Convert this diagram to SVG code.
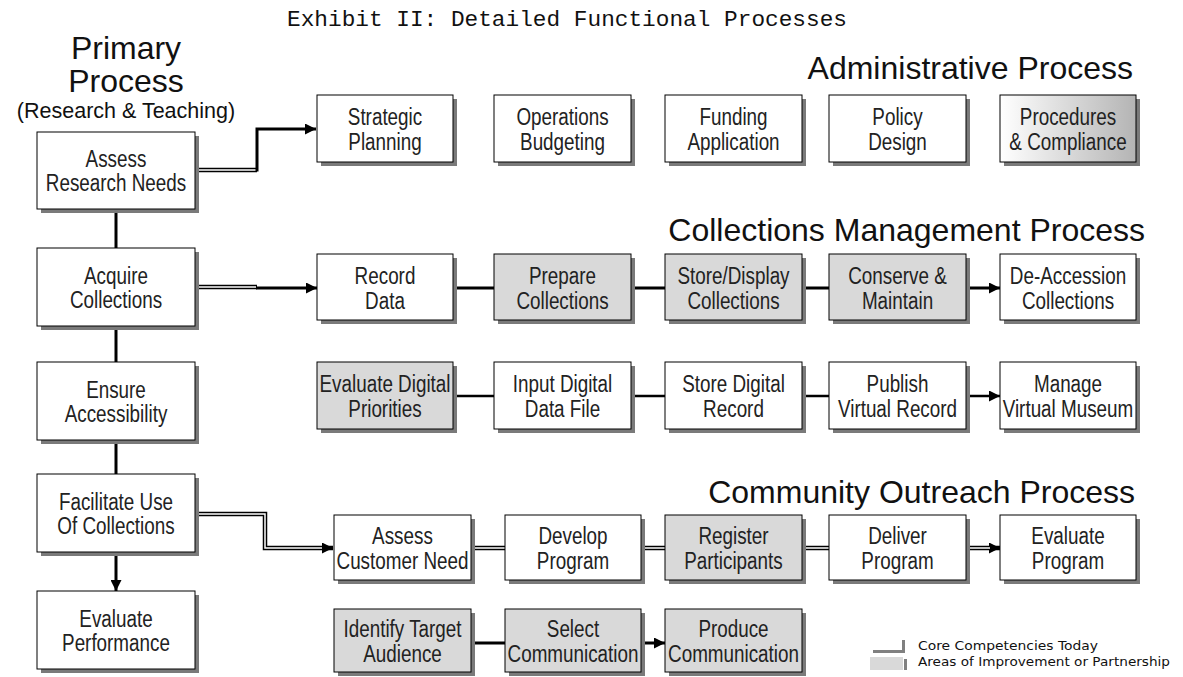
<svg xmlns="http://www.w3.org/2000/svg" width="1183" height="677" viewBox="0 0 1183 677">
<style>
.sh{fill:#7a7a7a}
.bx{fill:#fff;stroke:#000;stroke-width:1}
.gy{fill:#d9d9d9;stroke:#000;stroke-width:1}
.t{font-family:"Liberation Sans",Arial,sans-serif;font-size:23px;fill:#222;text-anchor:middle}
.h{font-family:"Liberation Sans",Arial,sans-serif;fill:#111}
.th{fill:none;stroke:#000;stroke-width:3}
.md{fill:none;stroke:#000;stroke-width:2.5}
.db{fill:none;stroke:#000;stroke-width:4.5}
.dw{fill:none;stroke:#fff;stroke-width:1.5}
.lg{font-family:"DejaVu Sans","Liberation Sans",sans-serif;font-size:13px;fill:#111}
</style>
<defs>
<marker id="ah" markerUnits="userSpaceOnUse" viewBox="0 0 10 10" refX="10" refY="5" markerWidth="11" markerHeight="11" orient="auto">
<path d="M0,0 L10,5 L0,10 z" fill="#000"/>
</marker>
<linearGradient id="gr" x1="0" y1="0" x2="1" y2="0">
<stop offset="0" stop-color="#ffffff"/>
<stop offset="1" stop-color="#b4b4b4"/>
</linearGradient>
</defs>
<rect width="1183" height="677" fill="#fff"/>

<text x="287" y="26" font-family="Liberation Mono,monospace" font-size="22" textLength="560" lengthAdjust="spacingAndGlyphs" fill="#111">Exhibit II: Detailed Functional Processes</text>
<g class="h" text-anchor="middle">
<text x="126" y="59" font-size="32">Primary</text>
<text x="126" y="92" font-size="32">Process</text>
<text x="126" y="118" font-size="21.5">(Research &amp; Teaching)</text>
</g>
<text class="h" x="1133" y="79" font-size="32" text-anchor="end">Administrative Process</text>
<text class="h" x="1145" y="241" font-size="32" text-anchor="end">Collections Management Process</text>
<text class="h" x="1135" y="503" font-size="32" text-anchor="end">Community Outreach Process</text>

<g id="connectors">
<path class="db" d="M195,170 H257"/><path class="dw" d="M195,170 H256"/>
<path class="th" d="M257,171.5 V129 H316" marker-end="url(#ah)"/>
<path class="db" d="M195,287 H257"/><path class="dw" d="M195,287 H256"/>
<path class="th" d="M256,288 H317" marker-end="url(#ah)"/>
<path class="db" d="M195,514 H265 V548 H333" marker-end="url(#ah)"/>
<path class="dw" d="M195,514 H265 V548 H322"/>
<path class="th" d="M116,209 V248"/>
<path class="th" d="M116,326 V362"/>
<path class="th" d="M116,440 V474"/>
<path class="th" d="M116,552 V591" marker-end="url(#ah)"/>
<path class="th" d="M453,288 H494"/>
<path class="th" d="M631,288 H665"/>
<path class="th" d="M802,288 H829"/>
<path class="th" d="M966,288 H1000" marker-end="url(#ah)"/>
<path class="md" d="M453,396 H494"/>
<path class="md" d="M631,396 H665"/>
<path class="md" d="M802,396 H829"/>
<path class="md" d="M966,396 H1000" marker-end="url(#ah)"/>
<path class="db" d="M471,548 H505"/><path class="dw" d="M471,548 H505"/>
<path class="db" d="M641,548 H665"/><path class="dw" d="M641,548 H665"/>
<path class="db" d="M802,548 H829"/><path class="dw" d="M802,548 H829"/>
<path class="db" d="M966,548 H1000" marker-end="url(#ah)"/><path class="dw" d="M966,548 H990"/>
<path class="th" d="M471,643 H505"/>
<path class="th" d="M641,643 H665" marker-end="url(#ah)"/>
</g>

<g id="n-assess-research"><rect class="sh" x="41" y="136" width="158" height="77"/><rect class="bx" x="37" y="132" width="158" height="77"/><text class="t" transform="matrix(0.82 0 0 1 116 0)"><tspan x="0" y="167">Assess</tspan><tspan x="0" y="191">Research Needs</tspan></text></g>
<g id="n-acquire"><rect class="sh" x="41" y="252" width="158" height="78"/><rect class="bx" x="37" y="248" width="158" height="78"/><text class="t" transform="matrix(0.82 0 0 1 116 0)"><tspan x="0" y="284">Acquire</tspan><tspan x="0" y="308">Collections</tspan></text></g>
<g id="n-ensure"><rect class="sh" x="41" y="366" width="158" height="78"/><rect class="bx" x="37" y="362" width="158" height="78"/><text class="t" transform="matrix(0.82 0 0 1 116 0)"><tspan x="0" y="398">Ensure</tspan><tspan x="0" y="422">Accessibility</tspan></text></g>
<g id="n-facilitate"><rect class="sh" x="41" y="478" width="158" height="78"/><rect class="bx" x="37" y="474" width="158" height="78"/><text class="t" transform="matrix(0.82 0 0 1 116 0)"><tspan x="0" y="510">Facilitate Use</tspan><tspan x="0" y="534">Of Collections</tspan></text></g>
<g id="n-evaluate-performance"><rect class="sh" x="41" y="595" width="158" height="78"/><rect class="bx" x="37" y="591" width="158" height="78"/><text class="t" transform="matrix(0.82 0 0 1 116 0)"><tspan x="0" y="627">Evaluate</tspan><tspan x="0" y="651">Performance</tspan></text></g>

<g id="n-strategic"><rect class="sh" x="321" y="99" width="136" height="67"/><rect class="bx" x="317" y="95" width="136" height="67"/><text class="t" transform="matrix(0.82 0 0 1 385 0)"><tspan x="0" y="125">Strategic</tspan><tspan x="0" y="150">Planning</tspan></text></g>
<g id="n-operations"><rect class="sh" x="498" y="99" width="137" height="67"/><rect class="bx" x="494" y="95" width="137" height="67"/><text class="t" transform="matrix(0.82 0 0 1 562.5 0)"><tspan x="0" y="125">Operations</tspan><tspan x="0" y="150">Budgeting</tspan></text></g>
<g id="n-funding"><rect class="sh" x="669" y="99" width="137" height="67"/><rect class="bx" x="665" y="95" width="137" height="67"/><text class="t" transform="matrix(0.82 0 0 1 733.5 0)"><tspan x="0" y="125">Funding</tspan><tspan x="0" y="150">Application</tspan></text></g>
<g id="n-policy"><rect class="sh" x="833" y="99" width="137" height="67"/><rect class="bx" x="829" y="95" width="137" height="67"/><text class="t" transform="matrix(0.82 0 0 1 897.5 0)"><tspan x="0" y="125">Policy</tspan><tspan x="0" y="150">Design</tspan></text></g>
<g id="n-procedures"><rect class="sh" x="1004" y="99" width="136" height="67"/><rect x="1000" y="95" width="136" height="67" fill="url(#gr)" stroke="#000"/><text class="t" transform="matrix(0.82 0 0 1 1068 0)"><tspan x="0" y="125">Procedures</tspan><tspan x="0" y="150">&amp; Compliance</tspan></text></g>

<g id="n-record"><rect class="sh" x="321" y="258" width="136" height="66"/><rect class="bx" x="317" y="254" width="136" height="66"/><text class="t" transform="matrix(0.82 0 0 1 385 0)"><tspan x="0" y="284">Record</tspan><tspan x="0" y="309">Data</tspan></text></g>
<g id="n-prepare"><rect class="sh" x="498" y="258" width="137" height="66"/><rect class="gy" x="494" y="254" width="137" height="66"/><text class="t" transform="matrix(0.82 0 0 1 562.5 0)"><tspan x="0" y="284">Prepare</tspan><tspan x="0" y="309">Collections</tspan></text></g>
<g id="n-store-display"><rect class="sh" x="669" y="258" width="137" height="66"/><rect class="gy" x="665" y="254" width="137" height="66"/><text class="t" transform="matrix(0.82 0 0 1 733.5 0)"><tspan x="0" y="284">Store/Display</tspan><tspan x="0" y="309">Collections</tspan></text></g>
<g id="n-conserve"><rect class="sh" x="833" y="258" width="137" height="66"/><rect class="gy" x="829" y="254" width="137" height="66"/><text class="t" transform="matrix(0.82 0 0 1 897.5 0)"><tspan x="0" y="284">Conserve &amp;</tspan><tspan x="0" y="309">Maintain</tspan></text></g>
<g id="n-deaccession"><rect class="sh" x="1004" y="258" width="136" height="66"/><rect class="bx" x="1000" y="254" width="136" height="66"/><text class="t" transform="matrix(0.82 0 0 1 1068 0)"><tspan x="0" y="284">De-Accession</tspan><tspan x="0" y="309">Collections</tspan></text></g>

<g id="n-eval-digital"><rect class="sh" x="321" y="366" width="136" height="67"/><rect class="gy" x="317" y="362" width="136" height="67"/><text class="t" transform="matrix(0.82 0 0 1 385 0)"><tspan x="0" y="392">Evaluate Digital</tspan><tspan x="0" y="417">Priorities</tspan></text></g>
<g id="n-input-digital"><rect class="sh" x="498" y="366" width="137" height="67"/><rect class="bx" x="494" y="362" width="137" height="67"/><text class="t" transform="matrix(0.82 0 0 1 562.5 0)"><tspan x="0" y="392">Input Digital</tspan><tspan x="0" y="417">Data File</tspan></text></g>
<g id="n-store-digital"><rect class="sh" x="669" y="366" width="137" height="67"/><rect class="bx" x="665" y="362" width="137" height="67"/><text class="t" transform="matrix(0.82 0 0 1 733.5 0)"><tspan x="0" y="392">Store Digital</tspan><tspan x="0" y="417">Record</tspan></text></g>
<g id="n-publish"><rect class="sh" x="833" y="366" width="137" height="67"/><rect class="bx" x="829" y="362" width="137" height="67"/><text class="t" transform="matrix(0.82 0 0 1 897.5 0)"><tspan x="0" y="392">Publish</tspan><tspan x="0" y="417">Virtual Record</tspan></text></g>
<g id="n-manage"><rect class="sh" x="1004" y="366" width="136" height="67"/><rect class="bx" x="1000" y="362" width="136" height="67"/><text class="t" transform="matrix(0.82 0 0 1 1068 0)"><tspan x="0" y="392">Manage</tspan><tspan x="0" y="417">Virtual Museum</tspan></text></g>

<g id="n-assess-customer"><rect class="sh" x="338" y="519" width="137" height="65"/><rect class="bx" x="334" y="515" width="137" height="65"/><text class="t" transform="matrix(0.82 0 0 1 402.5 0)"><tspan x="0" y="544">Assess</tspan><tspan x="0" y="569">Customer Need</tspan></text></g>
<g id="n-develop"><rect class="sh" x="509" y="519" width="136" height="65"/><rect class="bx" x="505" y="515" width="136" height="65"/><text class="t" transform="matrix(0.82 0 0 1 573 0)"><tspan x="0" y="544">Develop</tspan><tspan x="0" y="569">Program</tspan></text></g>
<g id="n-register"><rect class="sh" x="669" y="519" width="137" height="65"/><rect class="gy" x="665" y="515" width="137" height="65"/><text class="t" transform="matrix(0.82 0 0 1 733.5 0)"><tspan x="0" y="544">Register</tspan><tspan x="0" y="569">Participants</tspan></text></g>
<g id="n-deliver"><rect class="sh" x="833" y="519" width="137" height="65"/><rect class="bx" x="829" y="515" width="137" height="65"/><text class="t" transform="matrix(0.82 0 0 1 897.5 0)"><tspan x="0" y="544">Deliver</tspan><tspan x="0" y="569">Program</tspan></text></g>
<g id="n-evaluate-program"><rect class="sh" x="1004" y="519" width="136" height="65"/><rect class="bx" x="1000" y="515" width="136" height="65"/><text class="t" transform="matrix(0.82 0 0 1 1068 0)"><tspan x="0" y="544">Evaluate</tspan><tspan x="0" y="569">Program</tspan></text></g>

<g id="n-identify"><rect class="sh" x="338" y="613" width="137" height="63"/><rect class="gy" x="334" y="609" width="137" height="63"/><text class="t" transform="matrix(0.82 0 0 1 402.5 0)"><tspan x="0" y="637">Identify Target</tspan><tspan x="0" y="662">Audience</tspan></text></g>
<g id="n-select"><rect class="sh" x="509" y="613" width="136" height="63"/><rect class="gy" x="505" y="609" width="136" height="63"/><text class="t" transform="matrix(0.82 0 0 1 573 0)"><tspan x="0" y="637">Select</tspan><tspan x="0" y="662">Communication</tspan></text></g>
<g id="n-produce"><rect class="sh" x="669" y="613" width="137" height="63"/><rect class="gy" x="665" y="609" width="137" height="63"/><text class="t" transform="matrix(0.82 0 0 1 733.5 0)"><tspan x="0" y="637">Produce</tspan><tspan x="0" y="662">Communication</tspan></text></g>

<g id="legend">
<rect x="873" y="650" width="30" height="3" fill="#808080"/>
<rect x="902" y="640" width="3" height="13" fill="#808080"/>
<rect x="870" y="657" width="33" height="13" fill="#d9d9d9"/>
<rect x="904" y="659" width="3" height="11" fill="#808080"/>
<text class="lg" x="918" y="650" textLength="180" lengthAdjust="spacingAndGlyphs">Core Competencies Today</text>
<text class="lg" x="918" y="666" textLength="252" lengthAdjust="spacingAndGlyphs">Areas of Improvement or Partnership</text>
</g>
</svg>
